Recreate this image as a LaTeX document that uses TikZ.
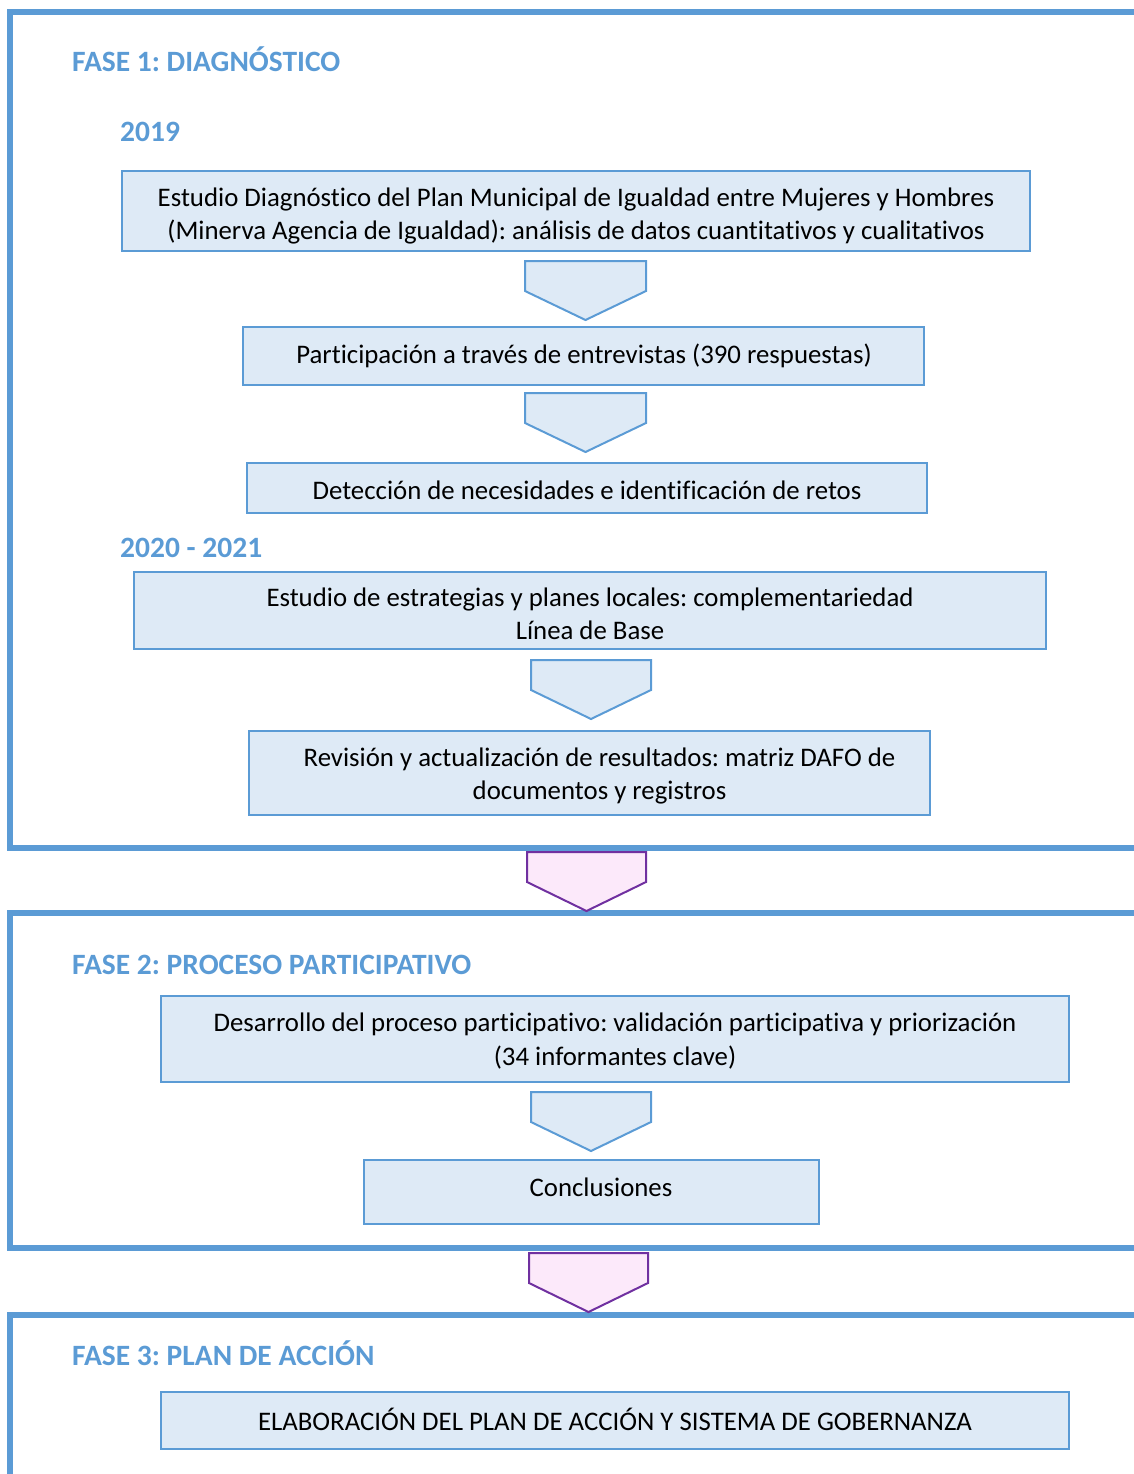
\documentclass[tikz,border=0pt]{standalone}
\usepackage{fontspec}
\setmainfont{Carlito}[Ligatures=NoCommon]
\frenchspacing
\definecolor{frameblue}{HTML}{5B9BD5}
\definecolor{boxfill}{HTML}{DEEAF6}
\definecolor{pinkfill}{HTML}{FCE9FA}
\definecolor{purpleline}{HTML}{7030A0}
\newcommand\blockarr[4]{% x-left, x-right, y-top, style
  \pgfmathsetmacro\midx{(#1+#2)/2}
  \draw[#4] (#1,#3) -- (#2,#3) -- (#2,#3+30) -- (\midx,#3+59) -- (#1,#3+30) -- cycle;}
\begin{document}
\begin{tikzpicture}[x=1pt,y=-1pt,
  framestyle/.style={draw=frameblue,line width=6pt},
  txt/.style={inner sep=0pt,align=center,font=\fontsize{26.8}{32.5}\selectfont},
  stepbox/.style={draw=frameblue,fill=boxfill,line width=1.6pt,txt},
  bluearr/.style={draw=frameblue,fill=boxfill,line width=2pt,line join=miter},
  pinkarr/.style={draw=purpleline,fill=pinkfill,line width=2pt,line join=miter},
  header/.style={text=frameblue,font=\bfseries\fontsize{29.5}{32}\selectfont,anchor=west,inner sep=0pt}]
\useasboundingbox (0,0) rectangle (1133,1474);
% frames
\draw[framestyle] (1145,12) -- (10,12) -- (10,848) -- (1145,848);
\draw[framestyle] (1145,913) -- (10,913) -- (10,1248) -- (1145,1248);
\draw[framestyle] (1145,1315) -- (10,1315) -- (10,1490);
% headers
\node[header] (h1) at (72,59) {FASE 1: DIAGNÓSTICO};
\node[header] (y1) at (120,132) {2019};
\node[header] (y2) at (120,548) {2020 - 2021};
\node[header] (h2) at (72,965) {FASE 2: PROCESO PARTICIPATIVO};
\node[header] (h3) at (72,1353) {FASE 3: PLAN DE ACCIÓN};
% boxes
\node[stepbox,minimum width=908pt,minimum height=80pt] (b1) at (576,211) {};
\node[txt] (t1) at (576,216)
  {Estudio Diagnóstico del Plan Municipal de Igualdad entre Mujeres y Hombres\\(Minerva Agencia de Igualdad): análisis de datos cuantitativos y cualitativos};
\node[stepbox,minimum width=681pt,minimum height=58pt] (b2) at (583.5,356) {};
\node[txt] (t2) at (584,356) {Participación a través de entrevistas (390 respuestas)};
\node[stepbox,minimum width=680pt,minimum height=50pt] (b3) at (587,488) {};
\node[txt] (t3) at (587,490) {Detección de necesidades e identificación de retos};
\node[stepbox,minimum width=912pt,minimum height=77pt] (b4) at (590,610.5) {};
\node[txt] (t4) at (590,614)
  {Estudio de estrategias y planes locales: complementariedad\\Línea de Base};
\node[stepbox,minimum width=681pt,minimum height=84pt] (b5) at (589.5,773) {};
\node[txt] (t5) at (599.5,776)
  {Revisión y actualización de resultados: matriz DAFO de\\documentos y registros};
\node[stepbox,minimum width=908pt,minimum height=86pt] (b6) at (615,1039) {};
\node[txt,font=\fontsize{26.8}{34}\selectfont] (t6) at (615,1041)
  {Desarrollo del proceso participativo: validación participativa y priorización\\(34 informantes clave)};
\node[stepbox,minimum width=455pt,minimum height=64pt] (b7) at (591.5,1192) {};
\node[txt] (t7) at (601,1187) {Conclusiones};
\node[stepbox,minimum width=908pt,minimum height=57pt] (b8) at (615,1420.5) {};
\node[txt] (t8) at (615,1419) {ELABORACIÓN DEL PLAN DE ACCIÓN Y SISTEMA DE GOBERNANZA};
% arrows
\blockarr{525}{646}{261}{bluearr}
\blockarr{525}{646}{393}{bluearr}
\blockarr{531}{651}{660}{bluearr}
\blockarr{527}{646}{852}{pinkarr}
\blockarr{531}{651}{1092}{bluearr}
\blockarr{529}{648}{1253}{pinkarr}
\end{tikzpicture}
\end{document}
